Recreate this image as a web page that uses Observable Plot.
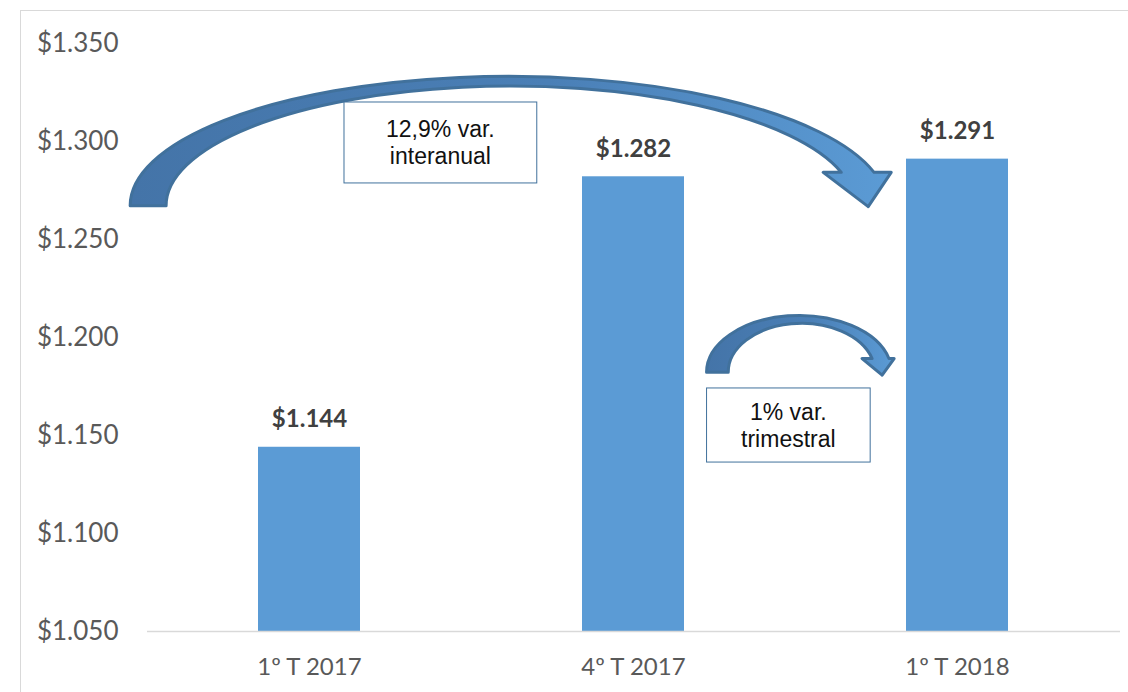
<!DOCTYPE html>
<html><head><meta charset="utf-8">
<script src="https://cdn.jsdelivr.net/npm/d3@7"></script>
<script src="https://cdn.jsdelivr.net/npm/@observablehq/plot@0.6"></script>
<style>
html,body{margin:0;padding:0;background:#fff;overflow:hidden;}
#wrap{position:relative;width:1128px;height:692px;overflow:hidden;}
#frame{position:absolute;left:20px;top:10px;width:1200px;height:800px;border:1px solid #d9d9d9;box-sizing:border-box;}
#chart{position:absolute;left:0;top:0;}
</style></head><body>
<div id="wrap"><div id="frame"></div><div id="chart"></div></div>
<script>
// ---- data ----
const categories = ["1º T 2017", "4º T 2017", "1º T 2018"];
const values = [1144, 1282, 1291];
const yTicks = [1050, 1100, 1150, 1200, 1250, 1300, 1350];

// annotation boxes (x in category-slot units, y in value units)
const noteLines = [["12,9% var.", "interanual"], ["1% var.", "trimestral"]];
const noteX1 = [0.108, 1.227];
const noteX2 = [0.703, 1.732];
const noteYTop = [1319.9, 1174.0];
const noteYBottom = [1278.6, 1136.2];

// curved arrows (x in category-slot units, y in value units)
const arrowYearly = {leftOuter: -0.552, leftInner: -0.441, base: 1267, topOuter: 1333, topInner: 1328,
  headBase: 1284, rightOuter: 1.744, rightInner: 1.643, barbLeft: 1.587, barbRight: 1.797, tipX: 1.726, tipY: 1266.5};
const arrowQuarterly = {leftOuter: 1.227, leftInner: 1.294, base: 1182, topOuter: 1211, topInner: 1207,
  headBase: 1189, rightOuter: 1.790, rightInner: 1.738, barbLeft: 1.707, barbRight: 1.806, tipX: 1.769, tipY: 1180.5};

// ---- formatting ----
const locale = d3.formatLocale({decimal: ",", thousands: ".", grouping: [3], currency: ["$", ""]});
const fmt = locale.format("$,d");
const data = categories.map((c, i) => ({cat: c, value: values[i]}));

function arrowPath(a, X, Y) {
  const base = Y(a.base), topO = Y(a.topOuter), topI = Y(a.topInner), hy = Y(a.headBase);
  const lo = X(a.leftOuter), li = X(a.leftInner), ro = X(a.rightOuter), ri = X(a.rightInner);
  const bl = X(a.barbLeft), br = X(a.barbRight), tx = X(a.tipX), ty = Y(a.tipY);
  const ryO = base - topO, ryI = base - topI;
  const kO = Math.sqrt(Math.max(0, 1 - ((base - hy) / ryO) ** 2));
  const kI = Math.sqrt(Math.max(0, 1 - ((base - hy) / ryI) ** 2));
  const rxO = (ro - lo) / (1 + kO), rxI = (ri - li) / (1 + kI);
  return `M${lo},${base} A${rxO},${ryO} 0 0 1 ${ro},${hy} L${br},${hy} L${tx},${ty} L${bl},${hy} L${ri},${hy} A${rxI},${ryI} 0 0 0 ${li},${base} Z`;
}

function annotations(index, scales) {
  const x = scales.x, y = scales.y;
  const bw = typeof x.bandwidth === "function" ? x.bandwidth() : (x.bandwidth || 0);
  const start = x(categories[0]) + bw / 2;
  const step = x(categories[1]) - x(categories[0]);
  const X = s => start + s * step;
  const g = d3.create("svg:g");
  const defs = g.append("defs");
  const grad = defs.append("linearGradient").attr("id", "arrowGrad")
    .attr("x1", 0).attr("y1", 0).attr("x2", 1).attr("y2", 0);
  grad.append("stop").attr("offset", 0).attr("stop-color", "#4474a8");
  grad.append("stop").attr("offset", 0.55).attr("stop-color", "#4a7fb6");
  grad.append("stop").attr("offset", 1).attr("stop-color", "#5b9bd5");
  for (const a of [arrowYearly, arrowQuarterly]) {
    g.append("path").attr("d", arrowPath(a, X, y))
      .attr("fill", "url(#arrowGrad)").attr("stroke", "#41719c")
      .attr("stroke-width", 3).attr("stroke-linejoin", "round");
  }
  noteLines.forEach((lines, i) => {
    const x1 = X(noteX1[i]), x2 = X(noteX2[i]);
    const y1 = y(noteYTop[i]), y2 = y(noteYBottom[i]);
    g.append("rect").attr("x", x1).attr("y", y1).attr("width", x2 - x1).attr("height", y2 - y1)
      .attr("fill", "#fff").attr("stroke", "#41719c").attr("stroke-width", 1);
    const cx = (x1 + x2) / 2, cy = (y1 + y2) / 2;
    const t = g.append("text").attr("text-anchor", "middle")
      .attr("font-family", "'Liberation Sans', Arial, sans-serif").attr("font-size", 23).attr("fill", "#111");
    lines.forEach((ln, j) => t.append("tspan").attr("x", cx).attr("y", cy - 5 + j * 27).text(ln));
  });
  return g.node();
}

const chart = Plot.plot({
  width: 1128, height: 692,
  marginLeft: 147, marginRight: 8, marginTop: 43, marginBottom: 61,
  style: {background: "transparent", fontFamily: "Lato, sans-serif", overflow: "visible"},
  x: {domain: categories, paddingInner: 0.685, paddingOuter: 0.3425},
  y: {domain: [yTicks[0], yTicks[yTicks.length - 1]]},
  marks: [
    Plot.axisY({ticks: yTicks, tickFormat: fmt, tickSize: 0, tickPadding: 29, fontSize: 26, color: "#595959", label: null}),
    Plot.axisX({tickSize: 0, tickPadding: 26, fontSize: 24, color: "#595959", label: null}),
    Plot.barY(data, {x: "cat", y1: () => yTicks[0], y2: "value", fill: "#5b9bd5"}),
    Plot.ruleY([yTicks[0]], {stroke: "#d9d9d9", strokeWidth: 1.5}),
    Plot.text(data, {x: "cat", y: "value", text: d => fmt(d.value), dy: -27.5, fontSize: 24, fontWeight: "bold", fill: "#404040"}),
    annotations
  ]
});
document.getElementById("chart").appendChild(chart);
</script>
</body></html>
